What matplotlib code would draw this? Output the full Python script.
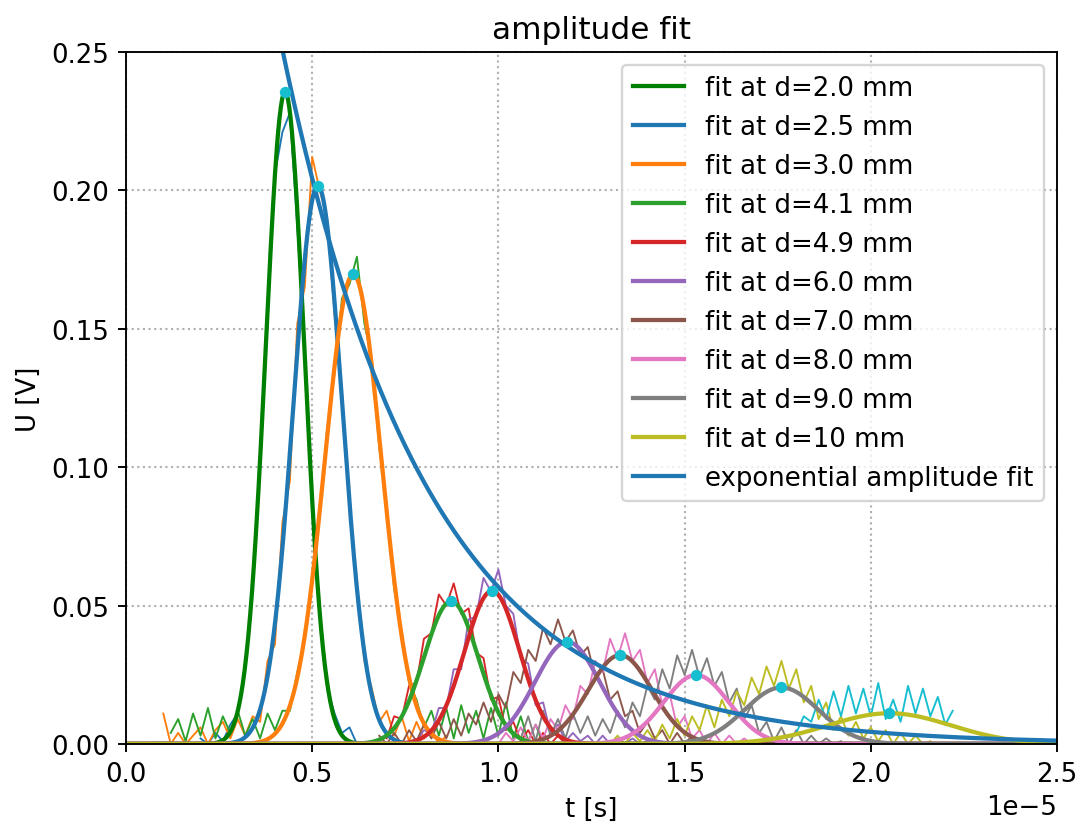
import numpy as np
import matplotlib
matplotlib.use("Agg")
import matplotlib.pyplot as plt

plt.rcParams["font.size"] = 11

# ---- data (time in units of 1e-5 s, voltage in V) ----
d_labels = ["2.0", "2.5", "3.0", "4.1", "4.9", "6.0", "7.0", "8.0", "9.0", "10"]

# gaussian fit parameters
fit_amp = [0.2355, 0.2017, 0.1696, 0.0515, 0.0553, 0.0369, 0.0321, 0.0249, 0.0204, 0.0111]
fit_mu = [0.427, 0.515, 0.610, 0.873, 0.983, 1.185, 1.327, 1.531, 1.760, 2.050]
fit_sig = [0.052, 0.0657, 0.0759, 0.073, 0.074, 0.087, 0.0856, 0.0875, 0.099, 0.165]

# exponential amplitude fit
exp_amp = 0.736
exp_tau = 0.39

# measured traces, sampled every 0.02e-5 s from the given start
step = 0.02
data_start = [0.20, 0.10, 0.12, 0.70, 0.78, 0.68, 1.00, 1.06, 1.30, 1.80]
data1 = [0.002, 0.000, 0.004, 0.001, 0.007, 0.011, 0.028, 0.055, 0.104, 0.152, 0.206,
         0.221, 0.228, 0.187, 0.141, 0.084, 0.047, 0.020, 0.011, 0.004, 0.006, 0.000]
data2 = [0.011, 0.000, 0.004, 0.000, 0.003, 0.006, 0.000, 0.005, 0.008, 0.002, 0.009,
         0.003, 0.010, 0.008, 0.030, 0.036, 0.080, 0.095, 0.152, 0.165, 0.212, 0.200,
         0.190, 0.155, 0.127, 0.084, 0.058, 0.030, 0.020, 0.008, 0.012, 0.003, 0.010,
         0.001, 0.008, 0.002, 0.005, 0.000, 0.003]
data3 = [0.004, 0.009, 0.001, 0.011, 0.003, 0.013, 0.002, 0.010, 0.004, 0.012, 0.003,
         0.009, 0.002, 0.011, 0.005, 0.012, 0.012, 0.026, 0.038, 0.061, 0.083, 0.114,
         0.134, 0.161, 0.166, 0.176, 0.152, 0.139, 0.107, 0.086, 0.056, 0.041, 0.022,
         0.016, 0.006, 0.012, 0.003, 0.013, 0.002, 0.014, 0.004, 0.012, 0.002, 0.013,
         0.003, 0.015, 0.002, 0.010, 0.001, 0.007, 0.000]
data4 = [0.002, 0.010, 0.009, 0.021, 0.022, 0.038, 0.040, 0.054, 0.050, 0.058, 0.047,
         0.049, 0.033, 0.031, 0.016, 0.017, 0.005, 0.008, 0.001, 0.005, 0.000, 0.004,
         0.000, 0.003, 0.000, 0.001]
data5 = [0.001, 0.005, 0.004, 0.013, 0.013, 0.027, 0.027, 0.045, 0.046, 0.060, 0.055,
         0.063, 0.050, 0.047, 0.031, 0.029, 0.014, 0.015, 0.004, 0.007, 0.001, 0.004,
         0.001, 0.003, 0.000, 0.003, 0.000, 0.002, 0.000, 0.002, 0.000, 0.001]
data6 = [0.003, 0.000, 0.004, 0.000, 0.005, 0.001, 0.007, 0.002, 0.008, 0.002, 0.009,
         0.003, 0.011, 0.007, 0.015, 0.008, 0.018, 0.013, 0.026, 0.022, 0.034, 0.030,
         0.042, 0.036, 0.045, 0.037, 0.041, 0.032, 0.035, 0.024, 0.027, 0.016, 0.019,
         0.010, 0.012, 0.004, 0.008, 0.002, 0.005, 0.000, 0.004, 0.000, 0.003, 0.000,
         0.001]
data7 = [0.000, 0.004, 0.001, 0.006, 0.001, 0.007, 0.002, 0.009, 0.005, 0.014, 0.009,
         0.021, 0.018, 0.030, 0.026, 0.038, 0.031, 0.040, 0.030, 0.034, 0.022, 0.027,
         0.014, 0.018, 0.006, 0.010, 0.002, 0.005, 0.000, 0.004, 0.000, 0.003, 0.000,
         0.002, 0.000, 0.001, 0.000]
data8 = [0.002, 0.010, 0.001, 0.012, 0.003, 0.009, 0.002, 0.011, 0.004, 0.010, 0.003,
         0.009, 0.004, 0.012, 0.006, 0.015, 0.010, 0.021, 0.016, 0.027, 0.020, 0.032,
         0.025, 0.034, 0.024, 0.031, 0.021, 0.026, 0.015, 0.020, 0.009, 0.014, 0.004,
         0.008, 0.001, 0.006, 0.000, 0.005, 0.000, 0.003, 0.000, 0.002, 0.000, 0.001]
data9 = [0.000, 0.003, 0.000, 0.004, 0.001, 0.005, 0.001, 0.007, 0.002, 0.009, 0.003,
         0.010, 0.005, 0.014, 0.006, 0.016, 0.010, 0.019, 0.014, 0.024, 0.018, 0.028,
         0.021, 0.030, 0.020, 0.027, 0.015, 0.021, 0.009, 0.015, 0.005, 0.010, 0.003,
         0.008, 0.002, 0.006, 0.001, 0.005, 0.000, 0.004, 0.000, 0.003, 0.000, 0.001]
data10 = [0.004, 0.010, 0.008, 0.016, 0.009, 0.019, 0.010, 0.021, 0.011, 0.020, 0.010,
          0.022, 0.009, 0.016, 0.008, 0.021, 0.011, 0.020, 0.010, 0.017, 0.007, 0.012]
traces = [data1, data2, data3, data4, data5, data6, data7, data8, data9, data10]

# ---- plot ----
fig = plt.figure(figsize=(1080 / 170, 825 / 170), dpi=170)
ax = fig.add_axes([0.1167, 0.097, 0.862, 0.839])

for i, vals in enumerate(traces):
    t = (data_start[i] + step * np.arange(len(vals))) * 1e-5
    ax.plot(t, vals, color="C%d" % i, lw=0.8)

t_fit = np.linspace(0, 2.5e-5, 1500)
for i in range(len(fit_amp)):
    col = "green" if i == 0 else "C%d" % (i - 1)
    mu = fit_mu[i] * 1e-5
    sig = fit_sig[i] * 1e-5
    ax.plot(t_fit, fit_amp[i] * np.exp(-(t_fit - mu) ** 2 / (2 * sig ** 2)),
            color=col, lw=1.8, label="fit at d=%s mm" % d_labels[i])

ax.plot(t_fit, exp_amp * np.exp(-t_fit / (exp_tau * 1e-5)), color="C0", lw=1.8,
        label="exponential amplitude fit")
ax.plot(np.array(fit_mu) * 1e-5, fit_amp, "o", color="C9", ms=3.8, zorder=5)

ax.set_xlim(0, 2.5e-5)
ax.set_ylim(0, 0.25)
ax.grid(True, linestyle=":", linewidth=0.9)
ax.set_title("amplitude fit")
ax.set_xlabel("t [s]")
ax.set_ylabel("U [V]")
ax.legend(loc="upper right")

fig.savefig("out.png", dpi=170)
